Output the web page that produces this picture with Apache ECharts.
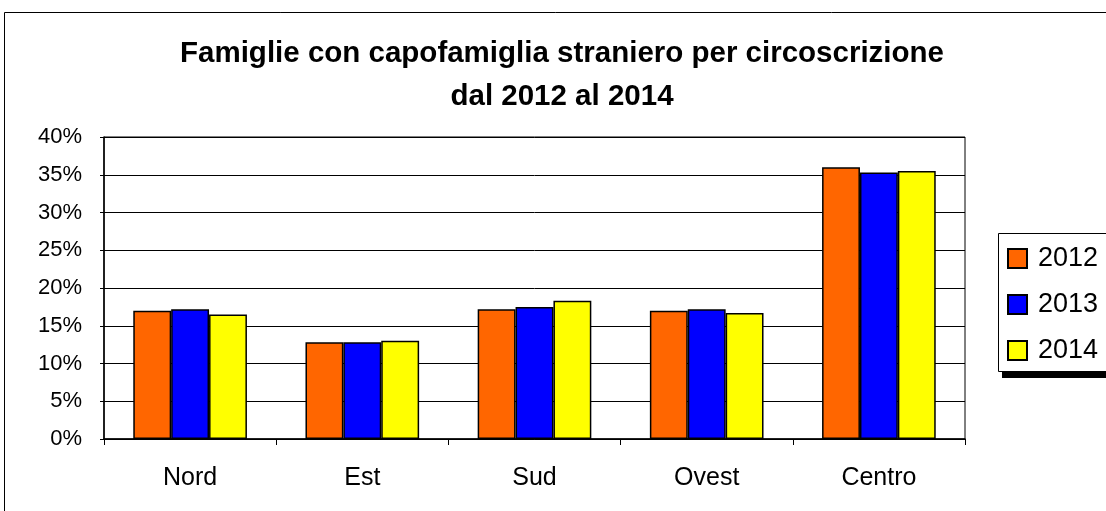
<!DOCTYPE html>
<html>
<head>
<meta charset="utf-8">
<script src="https://cdn.jsdelivr.net/npm/echarts@6/dist/echarts.min.js"></script>
<style>
  html, body { margin: 0; padding: 0; background: #fff; }
  #main { width: 1106px; height: 511px; }
</style>
</head>
<body>
<div id="main"></div>
<script>
// dati
var categories = ['Nord', 'Est', 'Sud', 'Ovest', 'Centro'];
var years = ['2012', '2013', '2014'];
var v2012 = [17.0, 12.8, 17.2, 17.0, 36.0];
var v2013 = [17.2, 12.8, 17.5, 17.2, 35.3];
var v2014 = [16.5, 13.0, 18.3, 16.7, 35.5];
var colors = ['#FF6600', '#0000FF', '#FFFF00'];

var font = '"Liberation Sans", Arial, sans-serif';
var myChart = echarts.init(document.getElementById('main'));

function makeSeries(name, data, i) {
    return {
        name: name,
        type: 'bar',
        data: data,
        barGap: '0%',
        barCategoryGap: '34%',
        itemStyle: {
            color: colors[i],
            borderColor: '#000',
            borderWidth: 1.5
        }
    };
}

var option = {
    backgroundColor: '#fff',
    animation: false,
    title: {
        text: 'Famiglie con capofamiglia straniero per circoscrizione\ndal 2012 al 2014',
        left: 562,
        top: 32,
        padding: 0,
        textAlign: 'center',
        textStyle: {
            fontFamily: font,
            fontSize: 29.5,
            fontWeight: 'bold',
            color: '#000',
            lineHeight: 43
        }
    },
    graphic: [
        {
            // cornice esterna
            type: 'rect',
            z: 0,
            shape: { x: 4.5, y: 12.5, width: 1110, height: 510 },
            style: { fill: 'none', stroke: '#000', lineWidth: 1 }
        },
        {
            // ombra della legenda
            type: 'rect',
            z: 1,
            shape: { x: 1002, y: 372, width: 110, height: 6 },
            style: { fill: '#000' }
        },
        {
            // box della legenda
            type: 'rect',
            z: 2,
            shape: { x: 998.5, y: 233.5, width: 120, height: 138 },
            style: { fill: '#fff', stroke: '#000', lineWidth: 1 }
        }
    ],
    legend: {
        orient: 'vertical',
        left: 1007,
        top: 245,
        padding: 0,
        z: 10,
        itemWidth: 19,
        itemHeight: 19,
        itemGap: 19,
        icon: 'rect',
        textStyle: {
            fontFamily: font,
            fontSize: 27,
            lineHeight: 27,
            color: '#000',
            padding: [0, 0, 0, 6]
        },
        data: years
    },
    grid: {
        left: 104,
        right: 141,
        top: 137,
        bottom: 72,
        show: true,
        borderColor: '#000',
        borderWidth: 1
    },
    xAxis: {
        type: 'category',
        data: categories,
        axisLine: { lineStyle: { color: '#000', width: 1.5 } },
        axisTick: { show: true, length: 6, lineStyle: { color: '#000' } },
        axisLabel: { fontFamily: font, fontSize: 25, color: '#000', margin: 27 }
    },
    yAxis: {
        type: 'value',
        min: 0,
        max: 40,
        interval: 5,
        axisLine: { show: true, lineStyle: { color: '#000', width: 1.5 } },
        axisTick: { show: true, length: 4, lineStyle: { color: '#000' } },
        axisLabel: {
            fontFamily: font,
            fontSize: 22,
            color: '#000',
            margin: 22,
            formatter: '{value}%'
        },
        splitLine: { lineStyle: { color: '#000', width: 1 } }
    },
    series: [
        makeSeries(years[0], v2012, 0),
        makeSeries(years[1], v2013, 1),
        makeSeries(years[2], v2014, 2)
    ]
};

window.onresize = myChart.resize;
myChart.setOption(option);
</script>
</body>
</html>
